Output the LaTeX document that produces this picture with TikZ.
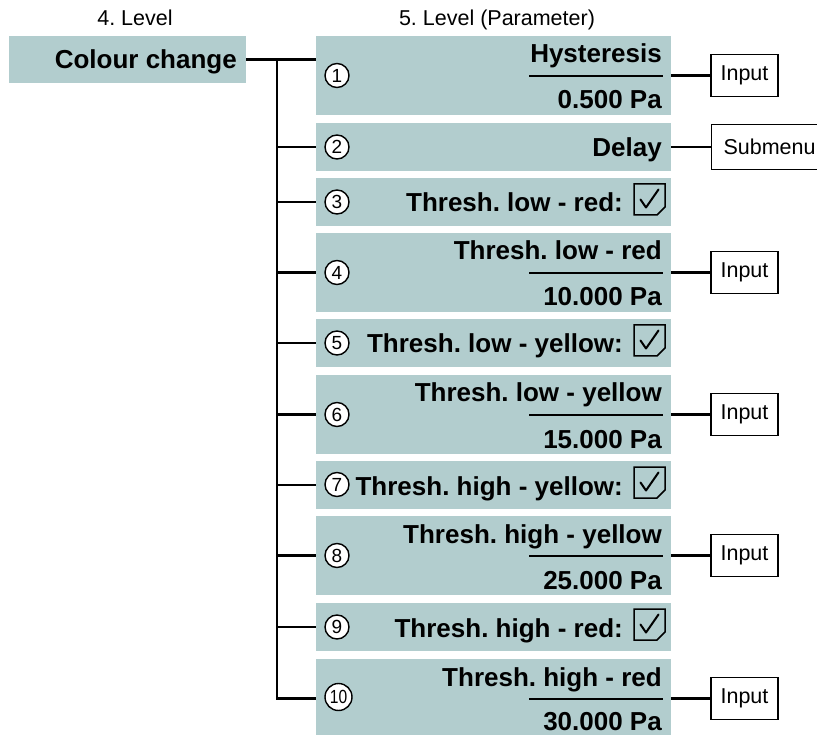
\documentclass[tikz,border=0pt]{standalone}
\usepackage{fontspec}
\setmainfont{Liberation Sans}
\frenchspacing
\definecolor{boxfill}{RGB}{178,205,206}
\tikzset{
  pbox/.style={fill=boxfill, draw=none, minimum width=355pt, inner sep=0pt},
  lvlbox/.style={fill=boxfill, draw=none, minimum width=237pt, minimum height=47pt, inner sep=0pt},
  lbl/.style={font=\fontsize{26}{30}\selectfont\bfseries, inner sep=0pt, anchor=base east},
  hdr/.style={font=\fontsize{21.5}{25}\selectfont, inner sep=0pt, anchor=base},
  num/.style={circle, draw, line width=1.4pt, fill=white, minimum size=24pt, inner sep=0pt, font=\fontsize{19}{19}\selectfont},
  iobox/.style={draw, line width=1.2pt, fill=white, minimum width=67pt, minimum height=42pt, inner sep=0pt, font=\fontsize{21.5}{25}\selectfont},
  conn/.style={line width=2.3pt},
  sepline/.style={line width=1.5pt},
  chkbox/.pic={
    \draw[line width=1.5pt, line join=miter] (-15.5,-15.5) -- (15.5,-15.5) -- (15.5,7.5) -- (7.5,15.5) -- (-15.5,15.5) -- cycle;
    \draw[line width=2pt, line join=round, line cap=round] (-9,0) -- (-3.5,8) -- (9,-10);
  }
}
\begin{document}
\begin{tikzpicture}[x=1pt, y=-1pt]
\useasboundingbox (0,0) rectangle (817,735);

% headers
\node[hdr] (h4) at (135,26) {4. Level};
\node[hdr] (h5) at (497,26) {5. Level (Parameter)};

% level 4 box
\node[lvlbox] (cc) at (127.5,59.5) {};
\node[lbl] (cct) at (237,69) {Colour change};

% parameter boxes
\node[pbox, minimum height=79pt] (b1) at (493.5,75.5) {};
\node[pbox, minimum height=48pt] (b2) at (493.5,147) {};
\node[pbox, minimum height=48pt] (b3) at (493.5,202) {};
\node[pbox, minimum height=79pt] (b4) at (493.5,272.5) {};
\node[pbox, minimum height=48pt] (b5) at (493.5,343) {};
\node[pbox, minimum height=79pt] (b6) at (493.5,414.5) {};
\node[pbox, minimum height=48pt] (b7) at (493.5,485) {};
\node[pbox, minimum height=79pt] (b8) at (493.5,555.5) {};
\node[pbox, minimum height=48pt] (b9) at (493.5,627) {};
\node[pbox, minimum height=79pt] (b10) at (493.5,698.5) {};

% circled numbers
\node[num] (c1) at (337,75.5) {1};
\node[num] (c2) at (337,147) {2};
\node[num] (c3) at (337,202) {3};
\node[num] (c4) at (337,272.5) {4};
\node[num] (c5) at (337,343) {5};
\node[num] (c6) at (337,414.5) {6};
\node[num] (c7) at (337,484.5) {7};
\node[num] (c8) at (337,555.5) {8};
\node[num] (c9) at (337,627) {9};
\node[num, minimum size=27pt] (c10) at (338.5,697) {\scalebox{0.82}[1]{10}};

% two-line labels
\node[lbl] (t1a) at (662,63) {Hysteresis};
\node[lbl] (t1b) at (662,109) {0.500 Pa};
\draw[sepline] (529,76) -- (663,76);

\node[lbl] (t4a) at (662,260) {Thresh. low - red};
\node[lbl] (t4b) at (662,306) {10.000 Pa};
\draw[sepline] (529,273) -- (663,273);

\node[lbl] (t6a) at (662,402) {Thresh. low - yellow};
\node[lbl] (t6b) at (662,448) {15.000 Pa};
\draw[sepline] (529,415) -- (663,415);

\node[lbl] (t8a) at (662,543) {Thresh. high - yellow};
\node[lbl] (t8b) at (662,589) {25.000 Pa};
\draw[sepline] (529,556) -- (663,556);

\node[lbl] (t10a) at (662,686) {Thresh. high - red};
\node[lbl] (t10b) at (662,730) {30.000 Pa};
\draw[sepline] (529,699) -- (663,699);

% single-line labels
\node[lbl] (t2) at (662,157) {Delay};
\node[lbl] (t3) at (623,212) {Thresh. low - red:};
\node[lbl] (t5) at (623,353) {Thresh. low - yellow:};
\node[lbl] (t7) at (623,495) {Thresh. high - yellow:};
\node[lbl] (t9) at (623,637) {Thresh. high - red:};

% checkboxes
\pic (k3) at (649.5,199.5) {chkbox};
\pic (k5) at (649.5,340.5) {chkbox};
\pic (k7) at (649.5,482.5) {chkbox};
\pic (k9) at (649.5,624.5) {chkbox};

% right-hand boxes
\node[iobox] (in1) at (744.5,75.5) {Input};
\node[iobox, anchor=west, minimum width=116pt, minimum height=45pt] (sub) at (711,147) {Submenu};
\node[iobox] (in4) at (744.5,272.5) {Input};
\node[iobox] (in6) at (744.5,414.5) {Input};
\node[iobox] (in8) at (744.5,555.5) {Input};
\node[iobox] (in10) at (744.5,698.5) {Input};

% tree connectors
\coordinate (jx) at (277,59.5);
\draw[conn] (cc.east) -- (cc.east -| b1.west);
\draw[conn] (jx) -- (jx |- b10.west) -- (b10.west);
\foreach \b in {b2,b3,b4,b5,b6,b7,b8,b9}{
  \draw[conn] (jx |- \b.west) -- (\b.west);
}

% right connectors
\draw[conn] (b1.east) -- (in1.west);
\draw[conn] (b2.east) -- (sub.west);
\draw[conn] (b4.east) -- (in4.west);
\draw[conn] (b6.east) -- (in6.west);
\draw[conn] (b8.east) -- (in8.west);
\draw[conn] (b10.east) -- (in10.west);
\end{tikzpicture}
\end{document}
